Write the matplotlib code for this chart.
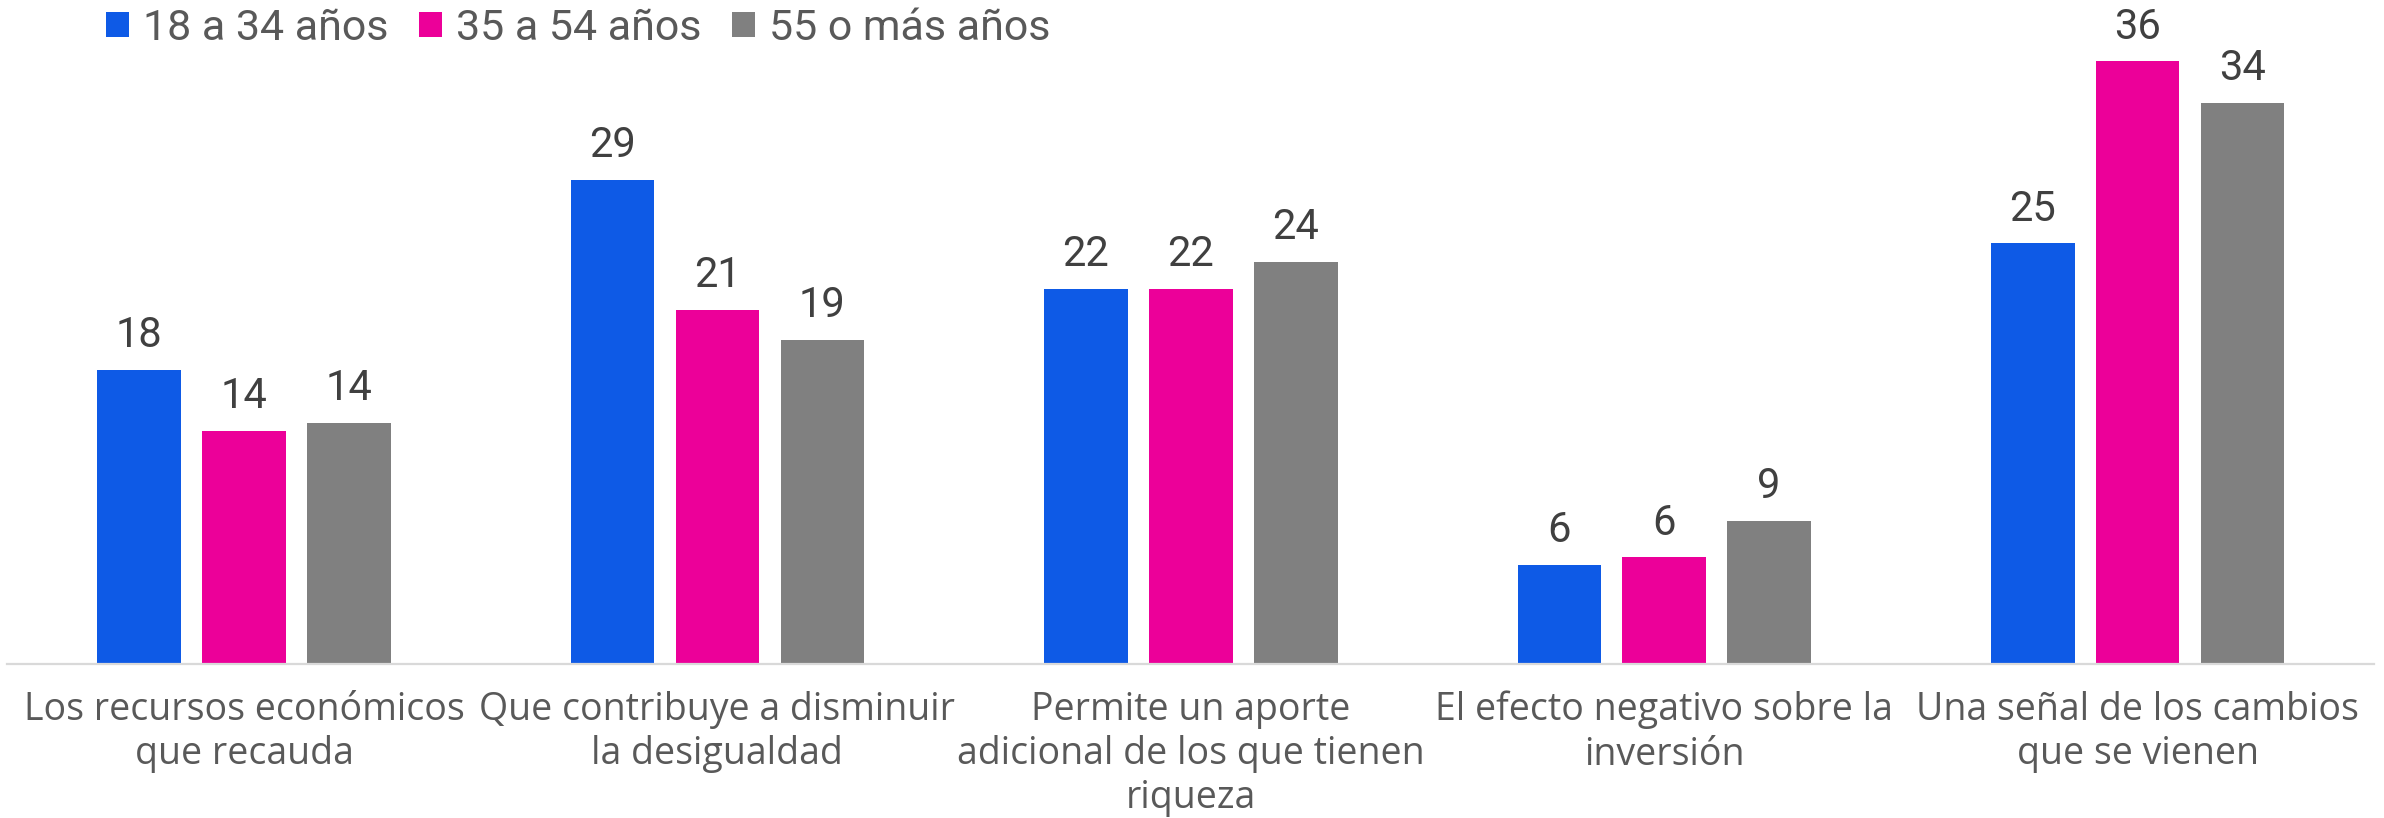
import matplotlib
matplotlib.use("Agg")
import matplotlib.pyplot as plt
from matplotlib.patches import Patch
import numpy as np

categories = [
    "Los recursos económicos\nque recauda",
    "Que contribuye a disminuir\nla desigualdad",
    "Permite un aporte\nadicional de los que tienen\nriqueza",
    "El efecto negativo sobre la\ninversión",
    "Una señal de los cambios\nque se vienen",
]
series_names = ["18 a 34 años", "35 a 54 años", "55 o más años"]
s_18_34 = [17.6, 29.0, 22.45, 5.95, 25.2]
s_35_54 = [13.95, 21.2, 22.45, 6.4, 36.1]
s_55 = [14.45, 19.4, 24.1, 8.6, 33.6]
colors = ["#0E5AE6", "#EC0099", "#808080"]

plt.rcParams['font.family'] = ['Roboto', 'DejaVu Sans']

W, H = 2384, 818
fig = plt.figure(figsize=(W / 100, H / 100), dpi=100)
base_px = 664.3
px_per_unit = 16.7
ymax = 38
ax_h = ymax * px_per_unit
ax = fig.add_axes([7.3 / W, (H - base_px) / H, (2374.4 - 7.3) / W, ax_h / H])

x = np.arange(len(categories))
step = 0.2216
width = 0.1766
all_series = [s_18_34, s_35_54, s_55]
for i, (vals, col, name) in enumerate(zip(all_series, colors, series_names)):
    pos = x + (i - 1) * step
    ax.bar(pos, vals, width=width, color=col, label=name, zorder=2)
    for xp, v in zip(pos, vals):
        ax.annotate(f"{round(v)}", (xp, v), xytext=(0, 10), textcoords="offset points",
                    ha="center", va="bottom", fontsize=30, color="#404040")

ax.set_xlim(-0.5, len(categories) - 0.5)
ax.set_ylim(0, ymax)
for s in ["top", "right", "left"]:
    ax.spines[s].set_visible(False)
ax.spines["bottom"].set_color("#D9D9D9")
ax.spines["bottom"].set_linewidth(1.6)
ax.set_yticks([])
ax.set_xticks(x)
ax.set_xticklabels(categories, fontsize=27, color="#595959", linespacing=1.22,
                   family=['Open Sans', 'DejaVu Sans'])
ax.tick_params(axis="x", length=0, pad=19)

handles = [Patch(facecolor=c) for c in colors]
fig.legend(handles, series_names, loc="upper left", bbox_to_anchor=(106 / W, 1 - 8 / H),
           ncol=3, frameon=False, fontsize=31, labelcolor="#595959",
           handlelength=0.53, handleheight=0.53, handletextpad=0.32, columnspacing=0.72,
           borderaxespad=0.0, borderpad=0.0)

fig.savefig("out.png", dpi=100, facecolor="white")
